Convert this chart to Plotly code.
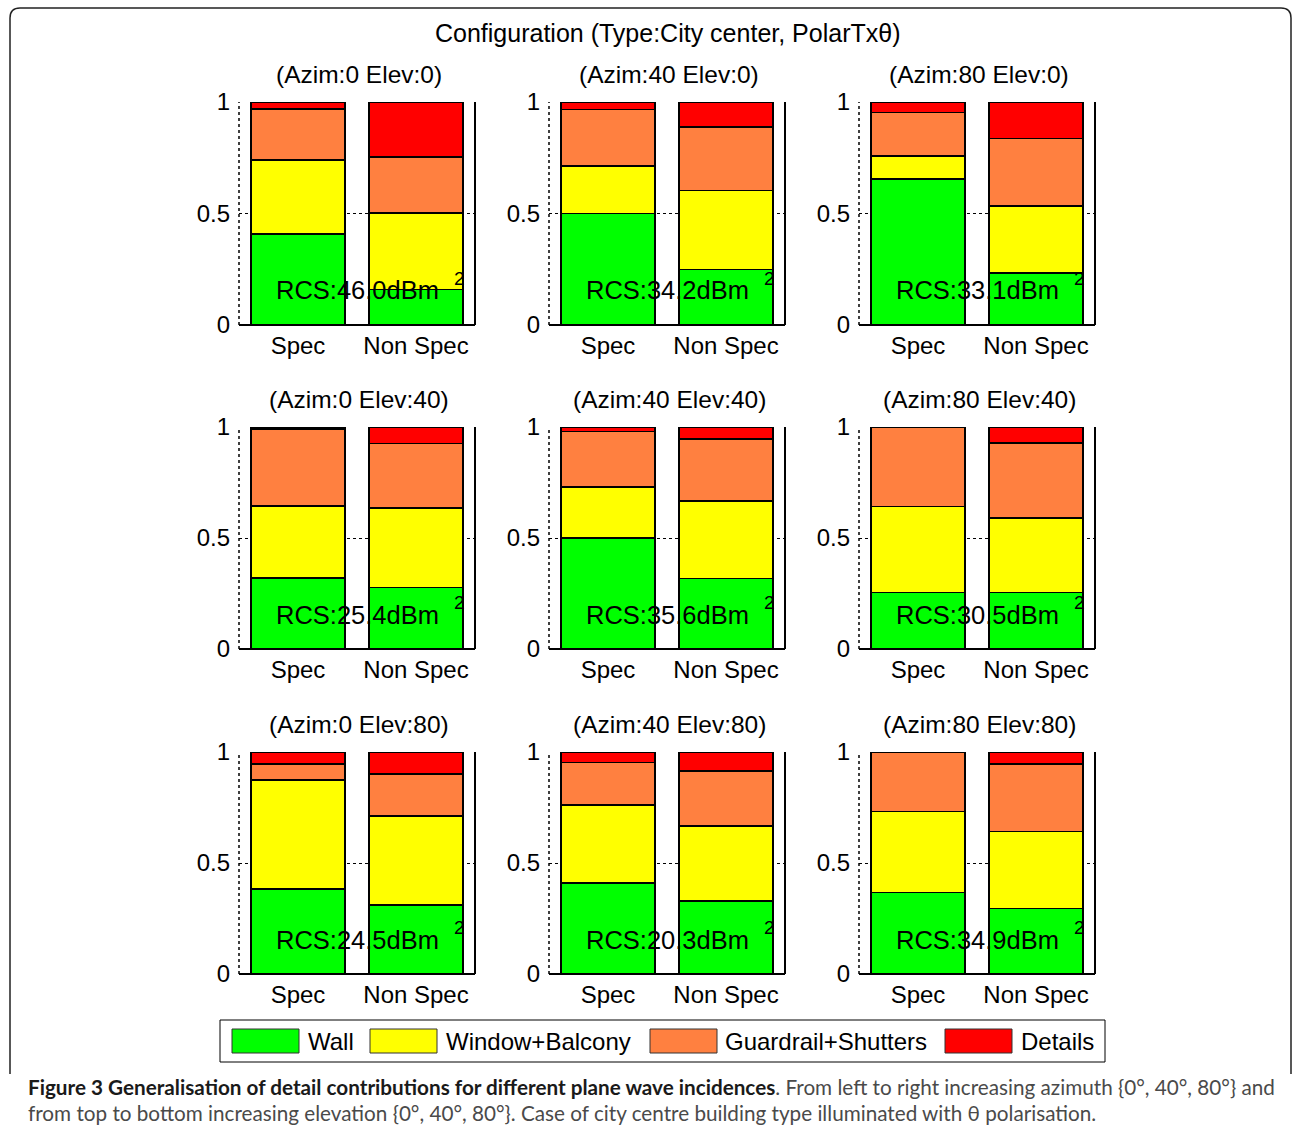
import plotly.graph_objects as go

# Bar categories and the incidence grid (rows = elevation, columns = azimuth)
categories = ["Spec", "Non Spec"]
azimuths = [0, 40, 80]
elevations = [0, 40, 80]

# Normalised contribution of each building component, subplot order row by row
wall_spec = [0.407, 0.500, 0.654, 0.319, 0.499, 0.254, 0.383, 0.409, 0.367]
wall_nonspec = [0.160, 0.249, 0.234, 0.278, 0.317, 0.254, 0.311, 0.329, 0.295]
window_spec = [0.332, 0.213, 0.104, 0.326, 0.230, 0.388, 0.492, 0.352, 0.365]
window_nonspec = [0.343, 0.355, 0.299, 0.357, 0.349, 0.337, 0.400, 0.337, 0.346]
guard_spec = [0.230, 0.253, 0.194, 0.346, 0.250, 0.358, 0.071, 0.192, 0.268]
guard_nonspec = [0.251, 0.284, 0.303, 0.290, 0.280, 0.337, 0.191, 0.248, 0.305]
detail_spec = [0.031, 0.034, 0.048, 0.009, 0.021, 0.000, 0.054, 0.047, 0.000]
detail_nonspec = [0.246, 0.112, 0.164, 0.075, 0.054, 0.072, 0.098, 0.086, 0.054]

# Total radar cross section for each incidence (dBm^2)
rcs_dbm2 = [46.0, 34.2, 33.1, 25.4, 35.6, 30.5, 24.5, 20.3, 34.9]

component_names = ["Wall", "Window+Balcony", "Guardrail+Shutters", "Details"]
component_colors = ["#00FF00", "#FFFF00", "#FF8040", "#FF0000"]
component_values = [
    (wall_spec, wall_nonspec),
    (window_spec, window_nonspec),
    (guard_spec, guard_nonspec),
    (detail_spec, detail_nonspec),
]

W, H = 1292, 1129
FONT = "Liberation Sans, Arial, sans-serif"


def px_x(p):
    return p / W


def px_y(p):
    return 1 - p / H


# Axes boxes in pixels
col_px = [(239, 475), (549, 785), (859, 1095)]
row_px = [(102, 325), (427, 649), (752, 974)]

fig = go.Figure()
annotations = []
shapes = []

for r, elev in enumerate(elevations):
    for c, azim in enumerate(azimuths):
        k = r * 3 + c
        n = k + 1
        xa = "x" if n == 1 else f"x{n}"
        ya = "y" if n == 1 else f"y{n}"
        xkey = "xaxis" if n == 1 else f"xaxis{n}"
        ykey = "yaxis" if n == 1 else f"yaxis{n}"

        for (spec_vals, nonspec_vals), name, color in zip(
            component_values, component_names, component_colors
        ):
            fig.add_trace(
                go.Bar(
                    x=[1, 2],
                    y=[spec_vals[k], nonspec_vals[k]],
                    width=0.8,
                    name=name,
                    marker=dict(color=color, line=dict(color="black", width=1.5)),
                    showlegend=False,
                    xaxis=xa,
                    yaxis=ya,
                )
            )

        x0, x1 = col_px[c]
        y0, y1 = row_px[r]
        fig.layout[xkey] = dict(
            domain=[px_x(x0), px_x(x1)],
            anchor=ya,
            range=[0.5, 2.5],
            tickvals=[1, 2],
            ticktext=categories,
            showgrid=False,
            zeroline=False,
            showline=False,
            ticks="",
            ticklabelstandoff=4,
            automargin=False,
            tickfont=dict(family=FONT, size=24, color="black"),
            fixedrange=True,
        )
        fig.layout[ykey] = dict(
            domain=[px_y(y1), px_y(y0)],
            anchor=xa,
            range=[0, 1],
            tickvals=[0, 0.5, 1],
            ticktext=["0", "0.5", "1"],
            showgrid=True,
            gridcolor="black",
            griddash="dot",
            gridwidth=1.2,
            zeroline=False,
            showline=False,
            ticks="",
            ticklabelstandoff=8,
            automargin=False,
            tickfont=dict(family=FONT, size=24, color="black"),
            fixedrange=True,
        )

        # axes frame: dotted left edge, solid right and bottom edges
        dref = dict(xref=f"{xa} domain", yref=f"{ya} domain", layer="above")
        shapes.append(dict(type="line", x0=0, x1=0, y0=0, y1=1,
                           line=dict(color="black", width=1.5, dash="dot"), **dref))
        shapes.append(dict(type="line", x0=1, x1=1, y0=0, y1=1,
                           line=dict(color="black", width=2), **dref))
        shapes.append(dict(type="line", x0=0, x1=1, y0=0, y1=0,
                           line=dict(color="black", width=2), **dref))

        # subplot title
        annotations.append(dict(
            text=f"(Azim:{azim} Elev:{elev})",
            x=px_x((x0 + x1) / 2 + 2), y=px_y(y0 - 28),
            xref="paper", yref="paper", xanchor="center", yanchor="middle",
            showarrow=False, font=dict(family=FONT, size=24.5, color="black"),
        ))
        # total RCS label
        annotations.append(dict(
            text=f"RCS:{rcs_dbm2[k]:.1f}dBm",
            x=1.5, y=0.155, xref=xa, yref=ya,
            xanchor="center", yanchor="middle", showarrow=False,
            font=dict(family=FONT, size=25.5, color="black"),
        ))
        annotations.append(dict(
            text="2",
            x=2.37, y=0.21, xref=xa, yref=ya,
            xanchor="center", yanchor="middle", showarrow=False,
            font=dict(family=FONT, size=19, color="black"),
        ))

# figure title
annotations.append(dict(
    text="Configuration (Type:City center, PolarTxθ)",
    x=px_x(667), y=px_y(33), xref="paper", yref="paper",
    xanchor="center", yanchor="middle", showarrow=False,
    font=dict(family=FONT, size=25, color="black"),
))

# legend box with wide colour swatches
shapes.append(dict(type="rect", xref="paper", yref="paper",
                   x0=px_x(220), x1=px_x(1105), y0=px_y(1062), y1=px_y(1020),
                   line=dict(color="black", width=1), fillcolor="white"))
swatch_px = [232, 370, 650, 945]
label_px = [306, 444, 723, 1019]
for name, color, sx, lx in zip(component_names, component_colors, swatch_px, label_px):
    shapes.append(dict(type="rect", xref="paper", yref="paper",
                       x0=px_x(sx), x1=px_x(sx + 67), y0=px_y(1053), y1=px_y(1029),
                       line=dict(color="#333333", width=1), fillcolor=color))
    annotations.append(dict(
        text=name, x=px_x(lx), y=px_y(1041), xref="paper", yref="paper",
        xanchor="left", yanchor="middle", showarrow=False,
        font=dict(family=FONT, size=24, color="black"),
    ))

# rounded frame around the figure (open at the bottom)
r_ = 10
frame = (
    f"M {px_x(10)},{px_y(1074)} L {px_x(10)},{px_y(8 + r_)} "
    f"Q {px_x(10)},{px_y(8)} {px_x(10 + r_)},{px_y(8)} "
    f"L {px_x(1281)},{px_y(8)} "
    f"Q {px_x(1291)},{px_y(8)} {px_x(1291)},{px_y(8 + r_)} "
    f"L {px_x(1291)},{px_y(1074)}"
)
shapes.append(dict(type="path", path=frame, xref="paper", yref="paper",
                   line=dict(color="#222222", width=1.5)))

# caption
cap_font = "Lato, Noto Sans, sans-serif"
annotations.append(dict(
    text=("<b>Figure 3 Generalisation of detail contributions for different plane wave incidences</b>"
          "<span style='color:#4a4a4a'>. From left to right increasing azimuth {0°, 40°, 80°} and</span>"),
    x=px_x(26), y=px_y(1087), xref="paper", yref="paper",
    xanchor="left", yanchor="middle", showarrow=False,
    font=dict(family=cap_font, size=20.7, color="#1a1a1a"),
))
annotations.append(dict(
    text=("from top to bottom increasing elevation {0°, 40°, 80°}. Case of city centre building "
          "type illuminated with θ polarisation."),
    x=px_x(26), y=px_y(1113), xref="paper", yref="paper",
    xanchor="left", yanchor="middle", showarrow=False,
    font=dict(family=cap_font, size=20.7, color="#4a4a4a"),
))

fig.update_layout(
    width=W, height=H,
    margin=dict(l=0, r=0, t=0, b=0, autoexpand=False),
    paper_bgcolor="white", plot_bgcolor="white",
    barmode="stack", bargap=0.2,
    showlegend=False,
    annotations=annotations,
    shapes=shapes,
)

fig.write_html("out.html")
